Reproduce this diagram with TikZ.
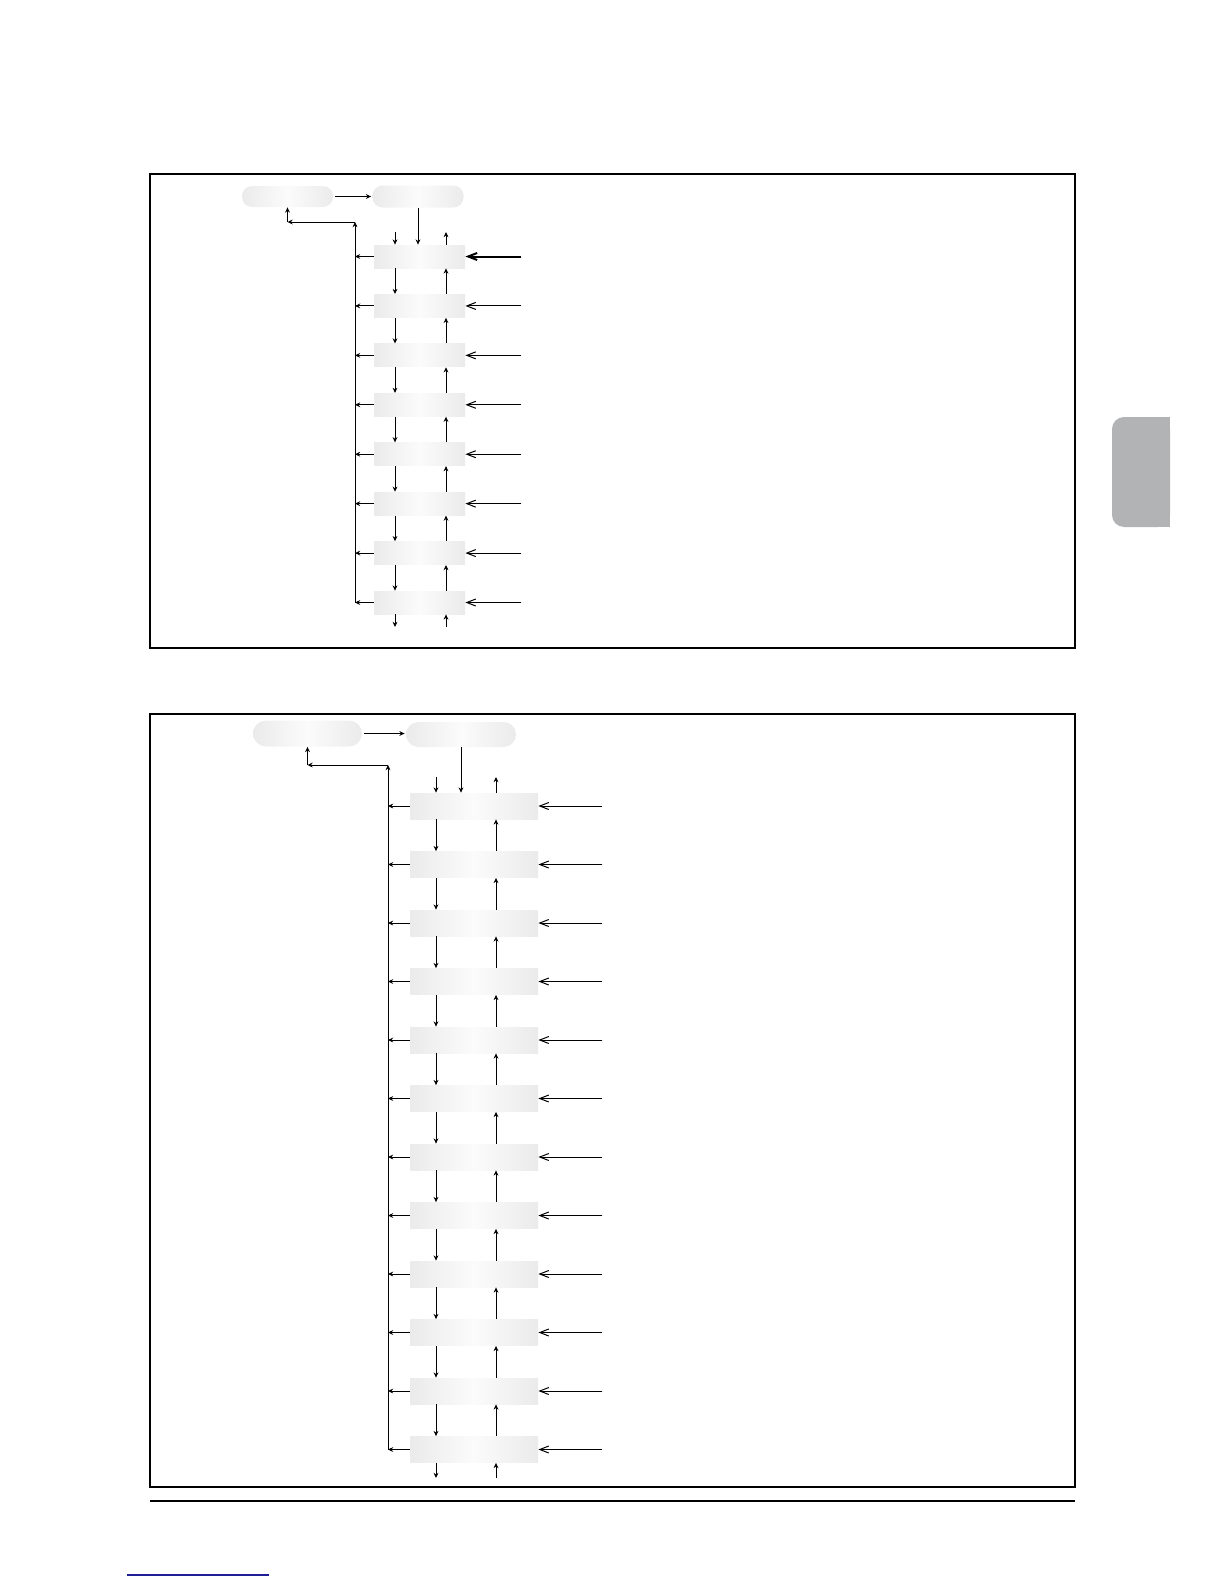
\documentclass[tikz,border=0pt]{standalone}
\usetikzlibrary{arrows.meta,calc}
\definecolor{tabgray}{RGB}{178,179,180}
\definecolor{linkblue}{RGB}{30,30,150}
\begin{document}
\begin{tikzpicture}[x=0.5pt,y=-0.5pt,
  conn/.style={line width=0.5pt,-{Stealth[length=2.6pt,width=2.4pt]}},
  inarr/.style={line width=0.5pt,-{Straight Barb[length=4.5pt,width=3.5pt]}},
  pill/.style={draw=none,rounded corners=5pt,left color=gray!16,right color=gray!16,middle color=gray!3,inner sep=0pt},
  rowbox/.style={draw=none,left color=gray!16,right color=gray!16,middle color=gray!3,inner sep=0pt},
  framebox/.style={line width=0.8pt}]
\useasboundingbox (0,0) rectangle (1224,1584);

% ---------- frames, rules, tab ----------
\draw[framebox] (150,174) rectangle (1075,648);
\draw[framebox] (150,714) rectangle (1075,1487);
\draw[line width=0.6pt] (150,1501) -- (1075,1501);
\draw[linkblue,line width=0.6pt] (127,1575) -- (269,1575);
\fill[tabgray,rounded corners=6pt] (1112,417) rectangle (1170,527);
\fill[tabgray] (1150,417) rectangle (1170,527);

% ---------- top diagram ----------
\node[pill,minimum width=45.5pt,minimum height=10.5pt] (ta) at (287.5,196.5) {};
\node[pill,minimum width=45.5pt,minimum height=11pt] (tb) at (418,196.5) {};
\foreach \i in {1,...,8}{
  \node[rowbox,minimum width=45.5pt,minimum height=11.5pt] (t\i) at (419.5,{256.5+49.43*(\i-1)}) {};
}
\coordinate (tdx) at (395,0);
\coordinate (tux) at (446,0);
\coordinate (tvx) at (355,0);
\coordinate (tcorner) at (355,222);
\coordinate (tin) at (395,232);
\coordinate (tout) at (446,232);
\coordinate (tdown) at (395,627);
\coordinate (tup) at (446,627);

\draw[conn,shorten <=1pt,shorten >=0.5pt] (ta.east) -- (tb.west);
\draw[conn] (tb.south) -- (t1.north -| tb.south);
\draw[conn] (tin) -- (t1.north -| tin);
\draw[conn] (t1.north -| tout) -- (tout);
\foreach \i in {1,...,7}{
  \pgfmathtruncatemacro{\j}{\i+1}
  \draw[conn] (t\i.south -| tdx) -- (t\j.north -| tdx);
  \draw[conn] (t\j.north -| tux) -- (t\i.south -| tux);
}
\draw[conn] (t8.south -| tdown) -- (tdown);
\draw[conn] (tup) -- (t8.south -| tup);
\foreach \i in {1,...,8}{
  \draw[conn] (t\i.west) -- (t\i.west -| tvx);
}
\draw[conn] (t8.west -| tvx) -- (tcorner);
\draw[conn] (tcorner) -- (tcorner -| ta.south);
\draw[conn] (tcorner -| ta.south) -- (ta.south);
\draw[inarr,line width=1pt] (t1.east) ++(56,0) coordinate (tr1) -- (t1.east);
\foreach \i in {2,...,8}{
  \draw[inarr] (t\i.east) ++(56,0) coordinate (tr\i) -- (t\i.east);
}

% ---------- bottom diagram ----------
\node[pill,minimum width=54.5pt,minimum height=13pt,rounded corners=6.5pt] (ba) at (307.5,733.5) {};
\node[pill,minimum width=55pt,minimum height=12.5pt,rounded corners=6.25pt] (bb) at (461,734.5) {};
\foreach \i in {1,...,12}{
  \node[rowbox,minimum width=64pt,minimum height=13pt] (b\i) at (474,{806+58.5*(\i-1)}) {};
}
\coordinate (bdx) at (436,0);
\coordinate (bux) at (496,0);
\coordinate (bvx) at (388,0);
\coordinate (bcorner) at (388,765);
\coordinate (bin) at (436,777);
\coordinate (bout) at (496,777);
\coordinate (bdown) at (436,1478);
\coordinate (bup) at (496,1478);

\draw[conn,shorten <=1pt,shorten >=0.5pt] (ba.east) -- (ba.east -| bb.west);
\draw[conn] (bb.south) -- (b1.north -| bb.south);
\draw[conn] (bin) -- (b1.north -| bin);
\draw[conn] (b1.north -| bout) -- (bout);
\foreach \i in {1,...,11}{
  \pgfmathtruncatemacro{\j}{\i+1}
  \draw[conn] (b\i.south -| bdx) -- (b\j.north -| bdx);
  \draw[conn] (b\j.north -| bux) -- (b\i.south -| bux);
}
\draw[conn] (b12.south -| bdown) -- (bdown);
\draw[conn] (bup) -- (b12.south -| bup);
\foreach \i in {1,...,12}{
  \draw[conn] (b\i.west) -- (b\i.west -| bvx);
  \draw[inarr] (b\i.east) ++(64,0) coordinate (br\i) -- (b\i.east);
}
\draw[conn] (b12.west -| bvx) -- (bcorner);
\draw[conn] (bcorner) -- (bcorner -| ba.south);
\draw[conn] (bcorner -| ba.south) -- (ba.south);
\end{tikzpicture}
\end{document}
